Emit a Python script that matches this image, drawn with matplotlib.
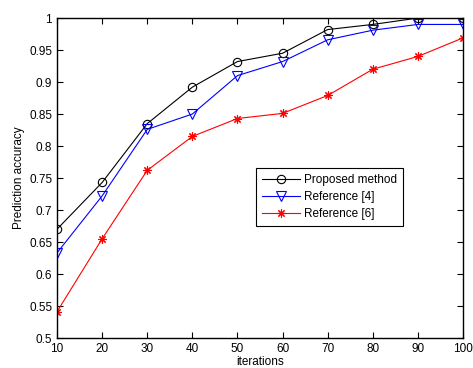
import matplotlib
matplotlib.use("Agg")
import matplotlib.pyplot as plt

iterations = [10, 20, 30, 40, 50, 60, 70, 80, 90, 100]
proposed = [0.670, 0.743, 0.835, 0.892, 0.932, 0.945, 0.982, 0.990, 1.000, 1.000]
ref4 = [0.633, 0.722, 0.826, 0.850, 0.910, 0.932, 0.966, 0.981, 0.990, 0.990]
ref6 = [0.541, 0.655, 0.762, 0.815, 0.843, 0.851, 0.879, 0.920, 0.940, 0.969]
xticks = [10, 20, 30, 40, 50, 60, 70, 80, 90, 100]
yticks = [0.5, 0.55, 0.6, 0.65, 0.7, 0.75, 0.8, 0.85, 0.9, 0.95, 1.0]
yticklabels = ["0.5", "0.55", "0.6", "0.65", "0.7", "0.75", "0.8", "0.85", "0.9", "0.95", "1"]

plt.rcParams['font.family'] = ['Liberation Sans', 'DejaVu Sans']
plt.rcParams['font.size'] = 8.5

fig = plt.figure(figsize=(4.73, 3.68), dpi=100)
ax = fig.add_axes([0.1205, 0.0815, 0.8585, 0.8695])

ax.plot(iterations, proposed, color='black', lw=0.8, marker='o', ms=6,
        mfc='none', mec='black', mew=0.8, label='Proposed method')
ax.plot(iterations, ref4, color='blue', lw=0.8, marker='v', ms=7,
        mfc='none', mec='blue', mew=0.8, label='Reference [4]')
ax.plot(iterations, ref6, color='red', lw=0.8, marker=(8, 2, 0), ms=6,
        mec='red', mew=0.8, label='Reference [6]')

ax.set_xlim(10, 100)
ax.set_ylim(0.5, 1.0)
ax.set_xticks(xticks)
ax.set_yticks(yticks)
ax.set_yticklabels(yticklabels)
ax.tick_params(direction='in', top=True, right=True, length=4, width=0.8, labelsize=8.5)
for s in ax.spines.values():
    s.set_linewidth(1.0)
ax.set_xlabel('iterations', fontsize=8.5, labelpad=1)
ax.set_ylabel('Prediction accuracy', fontsize=8.5, labelpad=3)

leg = ax.legend(loc='upper left', bbox_to_anchor=(0.49, 0.53), borderaxespad=0,
                fancybox=False, edgecolor='black', framealpha=1, fontsize=8.5,
                borderpad=0.5, labelspacing=0.4, handlelength=3.2, handletextpad=0.4)
leg.get_frame().set_linewidth(0.8)

fig.savefig('out.png', dpi=100)
